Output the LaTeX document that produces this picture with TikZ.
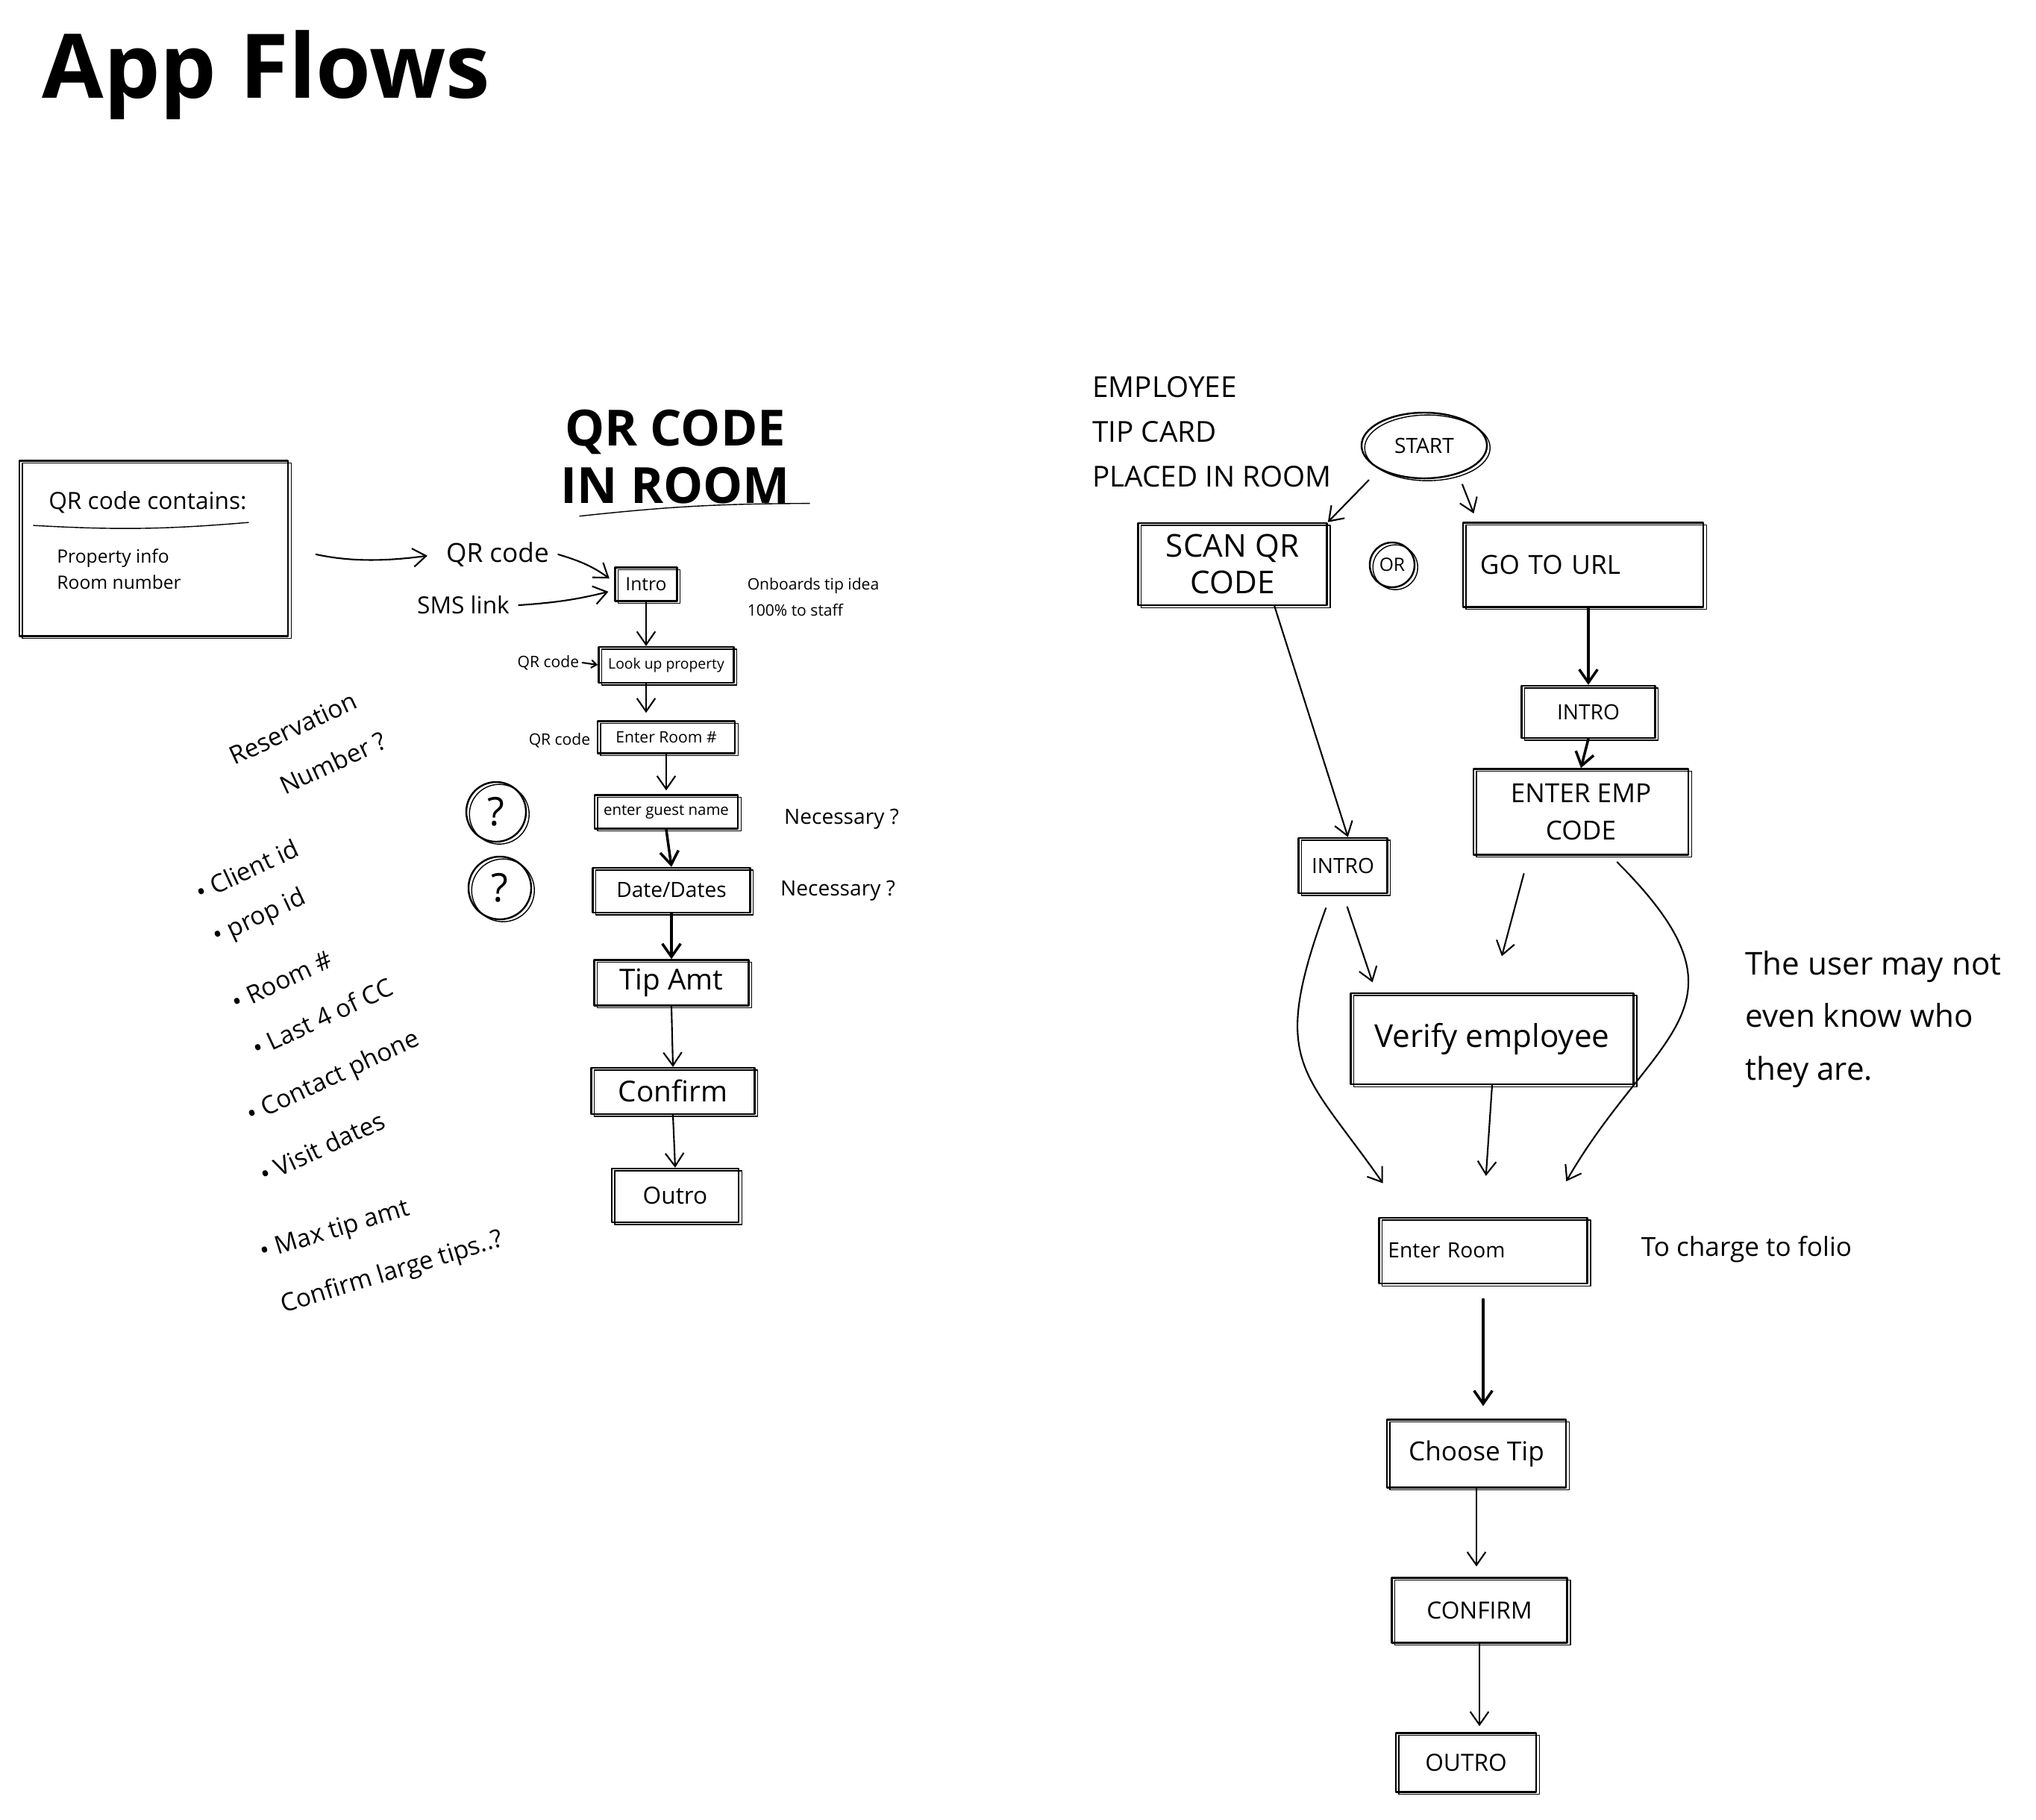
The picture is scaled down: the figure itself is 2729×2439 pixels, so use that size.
\documentclass[tikz,border=0pt]{standalone}
\usepackage{fontspec}
\setmainfont{Open Sans}
\usetikzlibrary{arrows.meta,shapes.geometric}

\tikzset{
  wh/.style 2 args={minimum width=#1cm, minimum height=#2cm},
  box/.style={draw, line width=0.7pt, inner sep=0pt,
    preaction={draw, line width=0.4pt, transform canvas={shift={(1.2pt,-0.9pt)}}}},
  flow/.style={->, line width=0.6pt},
  heavy/.style={->, line width=1pt},
  aside/.style={rotate=25, font=\fontsize{9.5}{11}\selectfont},
}

\begin{document}
\begin{tikzpicture}[x=0.01cm, y=-0.01cm, line join=round, line cap=round,
  >={Straight Barb[length=5pt,width=7pt]}]
  \useasboundingbox (0,0) rectangle (2729,2439);
  \node[font=\fontsize{34}{40}\selectfont\bfseries] (title) at (357,100) {App Flows};

  % QR code in room
  \node[box, wh={3.6}{2.35}] (contains) at (206,735) {};
  \node[font=\fontsize{9}{11}\selectfont] (containshd) at (198,673) {QR code contains:};
  \draw ([shift={(-8,4)}]containshd.south west) to[bend right=4] ([shift={(-10,0)}]containshd.south east);
  \node[anchor=west, align=left, font=\fontsize{7}{10}\selectfont] (contents) at (64,763) {Property info\\Room number};
  \node[font=\fontsize{10}{12}\selectfont] (qrin) at (667,743) {QR code};
  \node[font=\fontsize{9}{11}\selectfont] (smsin) at (621,811) {SMS link};
  \node[font=\fontsize{19}{22}\selectfont\bfseries, align=center] (qrtitle) at (905,612) {QR CODE\\IN ROOM};
  \draw ([shift={(38,4)}]qrtitle.south west) to[bend left=3] ([shift={(14,-13)}]qrtitle.south east);

  \node[box, wh={0.83}{0.45}, font=\fontsize{7}{8}\selectfont] (intro) at (866,783) {Intro};
  \node[align=left, font=\fontsize{6}{10}\selectfont] (onboard) at (1090,800) {Onboards tip idea\\100\% to staff};
  \node[box, wh={1.81}{0.48}, font=\fontsize{5.5}{7}\selectfont] (lookup) at (893,891) {Look up property};
  \node[inner sep=1pt, font=\fontsize{6}{7}\selectfont] (qrlook) at (735,888) {QR code};
  \node[box, wh={1.84}{0.43}, font=\fontsize{6}{7}\selectfont] (room) at (893,988) {Enter Room \#};
  \node[inner sep=1pt, font=\fontsize{6}{7}\selectfont] (qrroom) at (750,992) {QR code};
  \node[box, wh={1.92}{0.45}, font=\fontsize{5.8}{7}\selectfont] (guest) at (893,1088) {enter guest name};
  \node[box, wh={2.11}{0.60}, font=\fontsize{8}{9}\selectfont] (dates) at (900,1193) {Date/Dates};
  \node[box, circle, minimum size=0.8cm, font=\fontsize{15}{16}\selectfont] (askguest) at (665,1088) {?};
  \node[box, circle, minimum size=0.84cm, font=\fontsize{15}{16}\selectfont] (askdates) at (670,1190) {?};
  \node[font=\fontsize{8}{9}\selectfont] (needguest) at (1128,1098) {Necessary ?};
  \node[font=\fontsize{8}{9}\selectfont] (needdates) at (1123,1194) {Necessary ?};
  \node[box, wh={2.07}{0.61}, font=\fontsize{11}{12}\selectfont] (tipamt) at (900,1317) {Tip Amt};
  \node[box, wh={2.19}{0.62}, font=\fontsize{11}{12}\selectfont] (confirm) at (902,1462) {Confirm};
  \node[box, wh={1.70}{0.72}, font=\fontsize{9}{10}\selectfont] (outro) at (905,1602) {Outro};

  \draw[flow, shorten <=0.37cm, shorten >=0.13cm] (contains.east) to[bend right=10] (qrin.west);
  \draw[flow, shorten >=0.08cm] (qrin.east) to[bend left=10] ([yshift=0.03cm]intro.west);
  \draw[flow, shorten >=0.08cm] (smsin.east) to[bend right=5] ([yshift=-0.08cm]intro.west);
  \draw[flow] (intro.south) -- (intro.south |- lookup.north);
  \draw[flow, shorten >=0.1cm] (intro.south |- lookup.south) -- (intro.south |- room.north);
  \draw[flow, shorten >=0.05cm] (room.south) -- (guest.north);
  \draw[heavy] (guest.south) -- (dates.north);
  \draw[heavy] (dates.south) -- (tipamt.north);
  \draw[flow] (tipamt.south) -- (confirm.north);
  \draw[flow] (confirm.south) -- (outro.north);
  \draw[flow, >={Straight Barb[length=2pt,width=3pt]}] (qrlook.east) -- (lookup.west);

  % notes
  \node[aside] (resv) at (393,976) {Reservation};
  \node[aside] (resvnum) at (446,1022) {Number ?};
  \node[aside] (clientid) at (331,1166) {• Client id};
  \node[aside] (propid) at (348,1230) {• prop id};
  \node[aside] (roomno) at (378,1314) {• Room \#};
  \node[aside] (lastcc) at (432,1363) {• Last 4 of CC};
  \node[aside] (phone) at (447,1445) {• Contact phone};
  \node[aside] (visit) at (432,1537) {• Visit dates};
  \node[aside, rotate=-8] (maxtip) at (449,1650) {• Max tip amt};
  \node[aside, rotate=-8] (largetip) at (526,1706) {Confirm large tips..?};

  % employee tip card
  \node[anchor=north west, align=left, font=\fontsize{11}{17}\selectfont] (cardtitle) at (1452,492) {EMPLOYEE\\TIP CARD\\PLACED IN ROOM};
  \node[box, ellipse, wh={1.68}{0.88}, font=\fontsize{8}{9}\selectfont] (start) at (1909,597) {START};
  \node[box, wh={2.53}{1.10}, align=center, font=\fontsize{12}{14}\selectfont] (scan) at (1652,756) {SCAN QR\\CODE};
  \node[box, circle, minimum size=0.6cm, font=\fontsize{7}{8}\selectfont] (or) at (1866,757) {OR};
  \node[box, wh={3.22}{1.13}, text width=2.76cm, align=left, font=\fontsize{10}{12}\selectfont] (url) at (2122,757) {GO TO URL};
  \node[box, wh={1.19}{0.74}, font=\fontsize{8}{9}\selectfont] (introl) at (1800,1160) {INTRO};
  \node[box, wh={1.79}{0.70}, font=\fontsize{8}{9}\selectfont] (intror) at (2129,954) {INTRO};
  \node[box, wh={2.88}{1.15}, align=center, font=\fontsize{10}{14}\selectfont] (empcode) at (2119,1088) {ENTER EMP\\CODE};
  \node[box, wh={3.79}{1.22}, font=\fontsize{12}{14}\selectfont] (verify) at (2000,1392) {Verify employee};
  \node[anchor=north west, align=left, font=\fontsize{12}{20}\selectfont] (unknown) at (2327,1262) {The user may not\\even know who\\they are.};
  \node[box, wh={2.79}{0.88}, text width=2.55cm, align=left, font=\fontsize{8}{9}\selectfont] (enterroom) at (1988,1676) {Enter Room};
  \node[font=\fontsize{10}{12}\selectfont] (folio) at (2341,1674) {To charge to folio};
  \node[box, wh={2.40}{0.91}, font=\fontsize{10}{12}\selectfont] (choose) at (1979,1948) {Choose Tip};
  \node[box, wh={2.35}{0.87}, font=\fontsize{9}{10}\selectfont] (confirmr) at (1983,2158) {CONFIRM};
  \node[box, wh={1.88}{0.79}, font=\fontsize{9}{10}\selectfont] (outror) at (1965,2362) {OUTRO};

  \draw[flow, shorten <=0.2cm] (start.south west) -- (scan.north east);
  \draw[flow, shorten <=0.15cm, shorten >=0.12cm] (start.-40) -- ([xshift=0.2cm]url.north west);
  \draw[flow] (scan.-45) -- (introl.80);
  \draw[heavy] (url.south -| intror) -- (intror.north);
  \draw[heavy] (intror.south) -- (empcode.north);
  \draw[flow, shorten <=0.18cm, shorten >=0.14cm] (introl.south) -- ([xshift=0.35cm]verify.north west);
  \draw[flow, shorten <=0.25cm, shorten >=0.5cm] ([xshift=-0.7cm]empcode.south) -- (verify.north);
  \draw[flow, shorten <=0.2cm, shorten >=0.55cm] ([xshift=-0.16cm]introl.south) to[out=-110, in=125, looseness=1.4] ([xshift=0.38cm]enterroom.north west);
  \draw[flow, shorten >=0.55cm] (verify.south) -- (enterroom.north);
  \draw[flow, shorten <=0.12cm, shorten >=0.55cm] ([xshift=0.4cm]empcode.south) to[out=-45, in=60, looseness=1.5] ([xshift=-0.57cm]enterroom.north east);
  \draw[heavy, shorten <=0.2cm, shorten >=0.17cm] (enterroom.south) -- (enterroom.south |- choose.north);
  \draw[flow, shorten >=0.14cm] (choose.south) -- (choose.south |- confirmr.north);
  \draw[flow, shorten >=0.08cm] (confirmr.south) -- (confirmr.south |- outror.north);
\end{tikzpicture}
\end{document}
